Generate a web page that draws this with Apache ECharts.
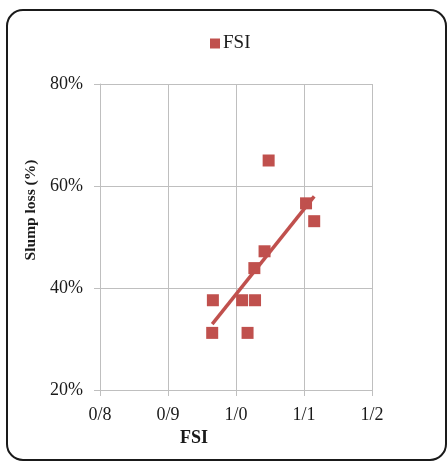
<!DOCTYPE html>
<html>
<head>
<meta charset="utf-8">
<script src="https://cdn.jsdelivr.net/npm/echarts@6/dist/echarts.min.js"></script>
<style>
  html, body { margin: 0; padding: 0; background: #fff; }
  #chart { width: 448px; height: 464px; }
</style>
</head>
<body>
<div id="chart"></div>
<script>
// FSI values and the measured slump loss (fraction) for each mix
const fsiValues = [1.048, 1.103, 1.115, 1.042, 1.027, 0.966, 1.009, 1.028, 0.965, 1.017];
const slumpLoss = [0.65, 0.566, 0.531, 0.472, 0.439, 0.376, 0.376, 0.376, 0.312, 0.312];
const xTicks = [0.8, 0.9, 1.0, 1.1, 1.2];
const yTicks = [0.2, 0.4, 0.6, 0.8];

const points = fsiValues.map((x, i) => [x, slumpLoss[i]]);

// Least-squares linear trend over the data range
function linearTrend(xs, ys) {
  const n = xs.length;
  const mx = xs.reduce((a, b) => a + b, 0) / n;
  const my = ys.reduce((a, b) => a + b, 0) / n;
  let sxy = 0, sxx = 0;
  for (let i = 0; i < n; i++) {
    sxy += (xs[i] - mx) * (ys[i] - my);
    sxx += (xs[i] - mx) * (xs[i] - mx);
  }
  const slope = sxy / sxx;
  const x0 = Math.min(...xs), x1 = Math.max(...xs);
  return [[x0, my + slope * (x0 - mx)], [x1, my + slope * (x1 - mx)]];
}
const trend = linearTrend(fsiValues, slumpLoss);

const red = '#c0504d';
const grid = '#bfbfbf';
const font = '"Liberation Serif", "Times New Roman", serif';

const chart = echarts.init(document.getElementById('chart'));
chart.setOption({
  animation: false,
  textStyle: { fontFamily: font },
  graphic: [{
    type: 'rect',
    shape: { x: 7, y: 10, width: 439, height: 450, r: 16 },
    style: { fill: 'none', stroke: '#1a1a1a', lineWidth: 2 },
    silent: true
  }],
  legend: {
    data: ['FSI'],
    top: 29,
    left: 205,
    icon: 'rect',
    itemWidth: 10,
    itemHeight: 10,
    itemGap: 3,
    textStyle: { fontFamily: font, fontSize: 19, color: '#1a1a1a', padding: [0, 0, 0, -2] }
  },
  grid: { left: 100, right: 76, top: 84, bottom: 74, containLabel: false, outerBoundsMode: 'none' },
  xAxis: {
    type: 'value',
    min: 0.8, max: 1.2, interval: 0.1,
    name: 'FSI',
    nameLocation: 'middle',
    nameGap: 38,
    nameTextStyle: { fontFamily: font, fontSize: 18, fontWeight: 'bold', color: '#1a1a1a', padding: [0, 84, 0, 0] },
    axisLine: { show: true, lineStyle: { color: grid, width: 1 } },
    axisTick: { show: true, length: 6, lineStyle: { color: grid } },
    splitLine: { show: true, lineStyle: { color: grid, width: 1 } },
    axisLabel: {
      fontFamily: font, fontSize: 18, color: '#1a1a1a', margin: 16,
      formatter: v => v.toFixed(1).replace('.', '/')
    }
  },
  yAxis: {
    type: 'value',
    min: 0.2, max: 0.8, interval: 0.2,
    name: 'Slump loss (%)',
    nameLocation: 'middle',
    nameGap: 52,
    nameTextStyle: { fontFamily: font, fontSize: 15.5, fontWeight: 'bold', color: '#1a1a1a', padding: [0, 0, 0, 54] },
    axisLine: { show: true, lineStyle: { color: grid, width: 1 } },
    axisTick: { show: true, length: 6, lineStyle: { color: grid } },
    splitLine: { show: true, lineStyle: { color: grid, width: 1 } },
    axisLabel: {
      fontFamily: font, fontSize: 18, color: '#1a1a1a', margin: 17,
      formatter: v => Math.round(v * 100) + '%'
    }
  },
  series: [
    {
      name: 'FSI',
      type: 'scatter',
      symbol: 'rect',
      symbolSize: 12,
      itemStyle: { color: red, opacity: 1 },
      data: points,
      z: 3
    },
    {
      name: 'trend',
      type: 'line',
      data: trend,
      symbol: 'none',
      lineStyle: { color: red, width: 3.5 },
      z: 4
    }
  ]
});
</script>
</body>
</html>
